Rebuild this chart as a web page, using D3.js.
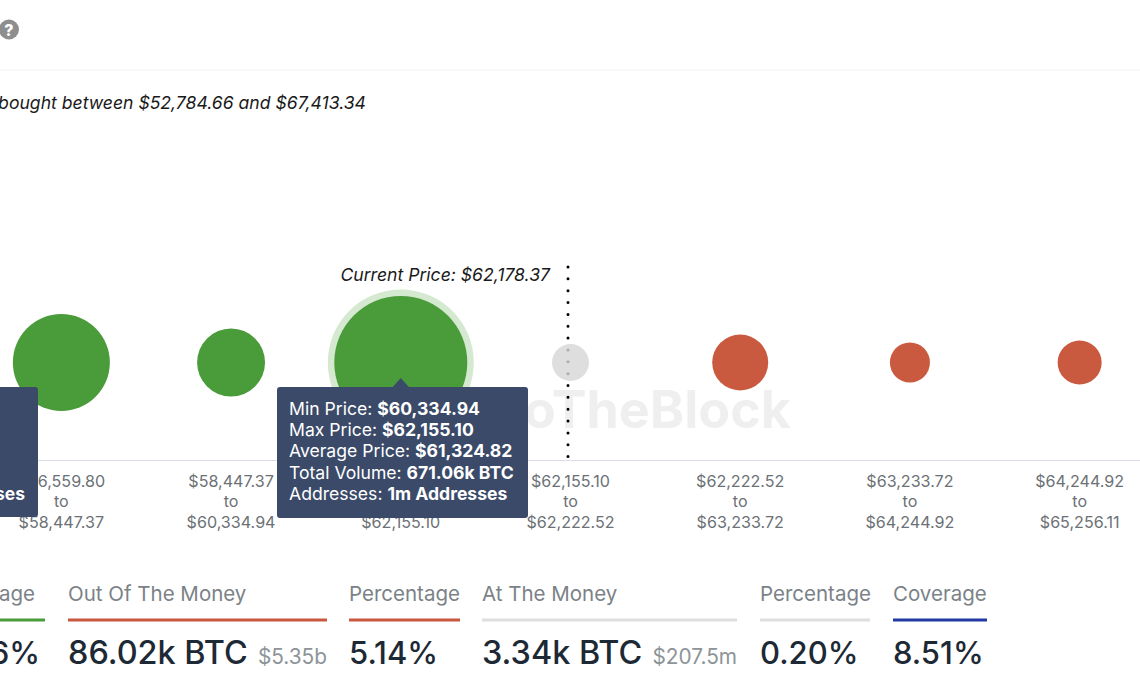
<!DOCTYPE html>
<html>
<head>
<meta charset="utf-8">
<script src="https://cdn.jsdelivr.net/npm/d3@7/dist/d3.min.js"></script>
<style>
html,body{margin:0;padding:0;background:#fff;overflow:hidden}
svg{display:block}
text{font-family:Inter,"Noto Sans",sans-serif}
</style>
</head>
<body>
<svg id="c" width="1140" height="694"></svg>
<script>
const rangeLow  = ["$56,559.80","$58,447.37","$60,334.94","$62,155.10","$62,222.52","$63,233.72","$64,244.92"];
const rangeHigh = ["$58,447.37","$60,334.94","$62,155.10","$62,222.52","$63,233.72","$64,244.92","$65,256.11"];
const volumeK   = [285, 92, 671.06, 3.34, 43.5, 6.7, 12.9];
const moneyState = ["in","in","in","at","out","out","out"];
const stateColors = {in:"#4a9c3a", at:"#d6d6d6", out:"#ca5a3f"};
const subtitleText = "bought between $52,784.66 and $67,413.34";
const currentPriceText = "Current Price: $62,178.37";
const tooltipRows = [["Min Price: ","$60,334.94"],["Max Price: ","$62,155.10"],["Average Price: ","$61,324.82"],["Total Volume: ","671.06k BTC"],["Addresses: ","1m Addresses"]];
const statLabels = ["Percentage","Out Of The Money","Percentage","At The Money","Percentage","Coverage"];
const statValues = ["94.66%","86.02k BTC","5.14%","3.34k BTC","0.20%","8.51%"];
const statSubs   = ["","$5.35b","","$207.5m","",""];
const statColors = ["#4a9c3a","#c9583f","#c9583f","#dedede","#dedede","#2238a5"];
const statX0 = [-80,68,349,482,760,893];
const statX1 = [45,327,460,737,870,987];

const svg = d3.select("#c");

// header
svg.append("circle").attr("cx",9).attr("cy",29.5).attr("r",10).attr("fill","#8e8e8e");
svg.append("text").attr("x",9).attr("y",35.5).attr("text-anchor","middle")
  .attr("font-size",16).attr("font-weight",800).attr("fill","#fff").text("?");
svg.append("line").attr("x1",0).attr("x2",1140).attr("y1",70).attr("y2",70).attr("stroke","#f3f3f3");
svg.append("text").attr("x",366).attr("y",109).attr("text-anchor","end")
  .attr("font-size",17.6).attr("font-style","italic").attr("fill","#1a1a1a").text(subtitleText);

// scales
const x = d3.scaleBand().domain(rangeLow).range([-23.5,1164.5]);
const r = d3.scaleSqrt().domain([3.34,671.06]).range([18.5,66.5]);
const cy = 362.5, axisY = 460;

// watermark
svg.append("text").attr("x",791).attr("y",428).attr("text-anchor","end")
  .attr("font-size",52).attr("font-weight",700).attr("fill","#efefef").text("IntoTheBlock");

// axis
const axis = d3.axisBottom(x).tickSize(0).tickPadding(0).tickFormat(()=>"");
const gA = svg.append("g").attr("transform",`translate(0,${axisY})`).call(axis);
gA.select(".domain").attr("stroke","#d9dde6").attr("stroke-width",1.2);
gA.selectAll(".tick text").each(function(d,i){
  const t = d3.select(this).attr("y",0).attr("dy",null).attr("font-size",16.1)
    .attr("fill","#6c7176").attr("text-anchor","middle").style("font-family","Inter,sans-serif");
  [[rangeLow[i],26.5],["to",47],[rangeHigh[i],67.5]].forEach(([s,y])=>{
    t.append("tspan").attr("x",0).attr("y",y).text(s);
  });
});

// current price marker
svg.append("line").attr("x1",568).attr("x2",568).attr("y1",267).attr("y2",458)
  .attr("stroke","#000").attr("stroke-width",3).attr("stroke-linecap","round").attr("stroke-dasharray","0 11.85");
svg.append("text").attr("x",550).attr("y",281).attr("text-anchor","end")
  .attr("font-size",17.6).attr("font-style","italic").attr("fill","#1a1a1a").text(currentPriceText);

// bubbles
const hi = d3.maxIndex(volumeK);
svg.append("circle").attr("cx",x(rangeLow[hi])+x.bandwidth()/2).attr("cy",cy)
  .attr("r",r(volumeK[hi])+6.5).attr("fill","#d5e8d0");
svg.selectAll("circle.b").data(volumeK).join("circle").attr("class","b")
  .attr("cx",(d,i)=>x(rangeLow[i])+x.bandwidth()/2).attr("cy",cy)
  .attr("r",d=>r(d)).attr("fill",(d,i)=>stateColors[moneyState[i]])
  .attr("fill-opacity",(d,i)=>moneyState[i]==="at"?0.8:1);

// tooltips
const ttColor = "#3a4a68";
svg.append("rect").attr("x",-200).attr("y",387).attr("width",238).attr("height",130).attr("rx",3).attr("fill",ttColor);
svg.append("text").attr("x",25).attr("y",500).attr("text-anchor","end").attr("font-size",17.5)
  .attr("font-weight",700).attr("fill","#fff").text("Addresses");
const cx = x(rangeLow[hi])+x.bandwidth()/2;
svg.append("rect").attr("x",277).attr("y",387).attr("width",251).attr("height",131).attr("rx",3).attr("fill",ttColor);
svg.append("path").attr("d",d3.line()([[cx-9,388],[cx,378],[cx+9,388]])).attr("fill",ttColor);
tooltipRows.forEach((row,i)=>{
  const t = svg.append("text").attr("x",289).attr("y",415+i*21.2).attr("font-size",17.6).attr("fill","#fff");
  t.append("tspan").text(row[0]);
  t.append("tspan").attr("font-weight",700).text(row[1]);
});

// stats
statLabels.forEach((lab,i)=>{
  const g = svg.append("g");
  const first = i===0;
  g.append("text").attr("x",first?35:statX0[i]).attr("y",601).attr("text-anchor",first?"end":"start")
    .attr("font-size",20.5).attr("fill","#7b8287").text(lab);
  g.append("line").attr("x1",statX0[i]).attr("x2",statX1[i]).attr("y1",620).attr("y2",620)
    .attr("stroke",statColors[i]).attr("stroke-width",3);
  g.append("text").attr("x",first?40:statX0[i]).attr("y",664).attr("text-anchor",first?"end":"start")
    .attr("font-size",statSubs[i]?32.4:31).attr("font-weight",500).attr("fill","#1d2935").text(statValues[i]);
  if(statSubs[i]) g.append("text").attr("x",statX1[i]).attr("y",664).attr("text-anchor","end")
    .attr("font-size",20.8).attr("fill","#8d9499").text(statSubs[i]);
});
</script>
</body>
</html>
